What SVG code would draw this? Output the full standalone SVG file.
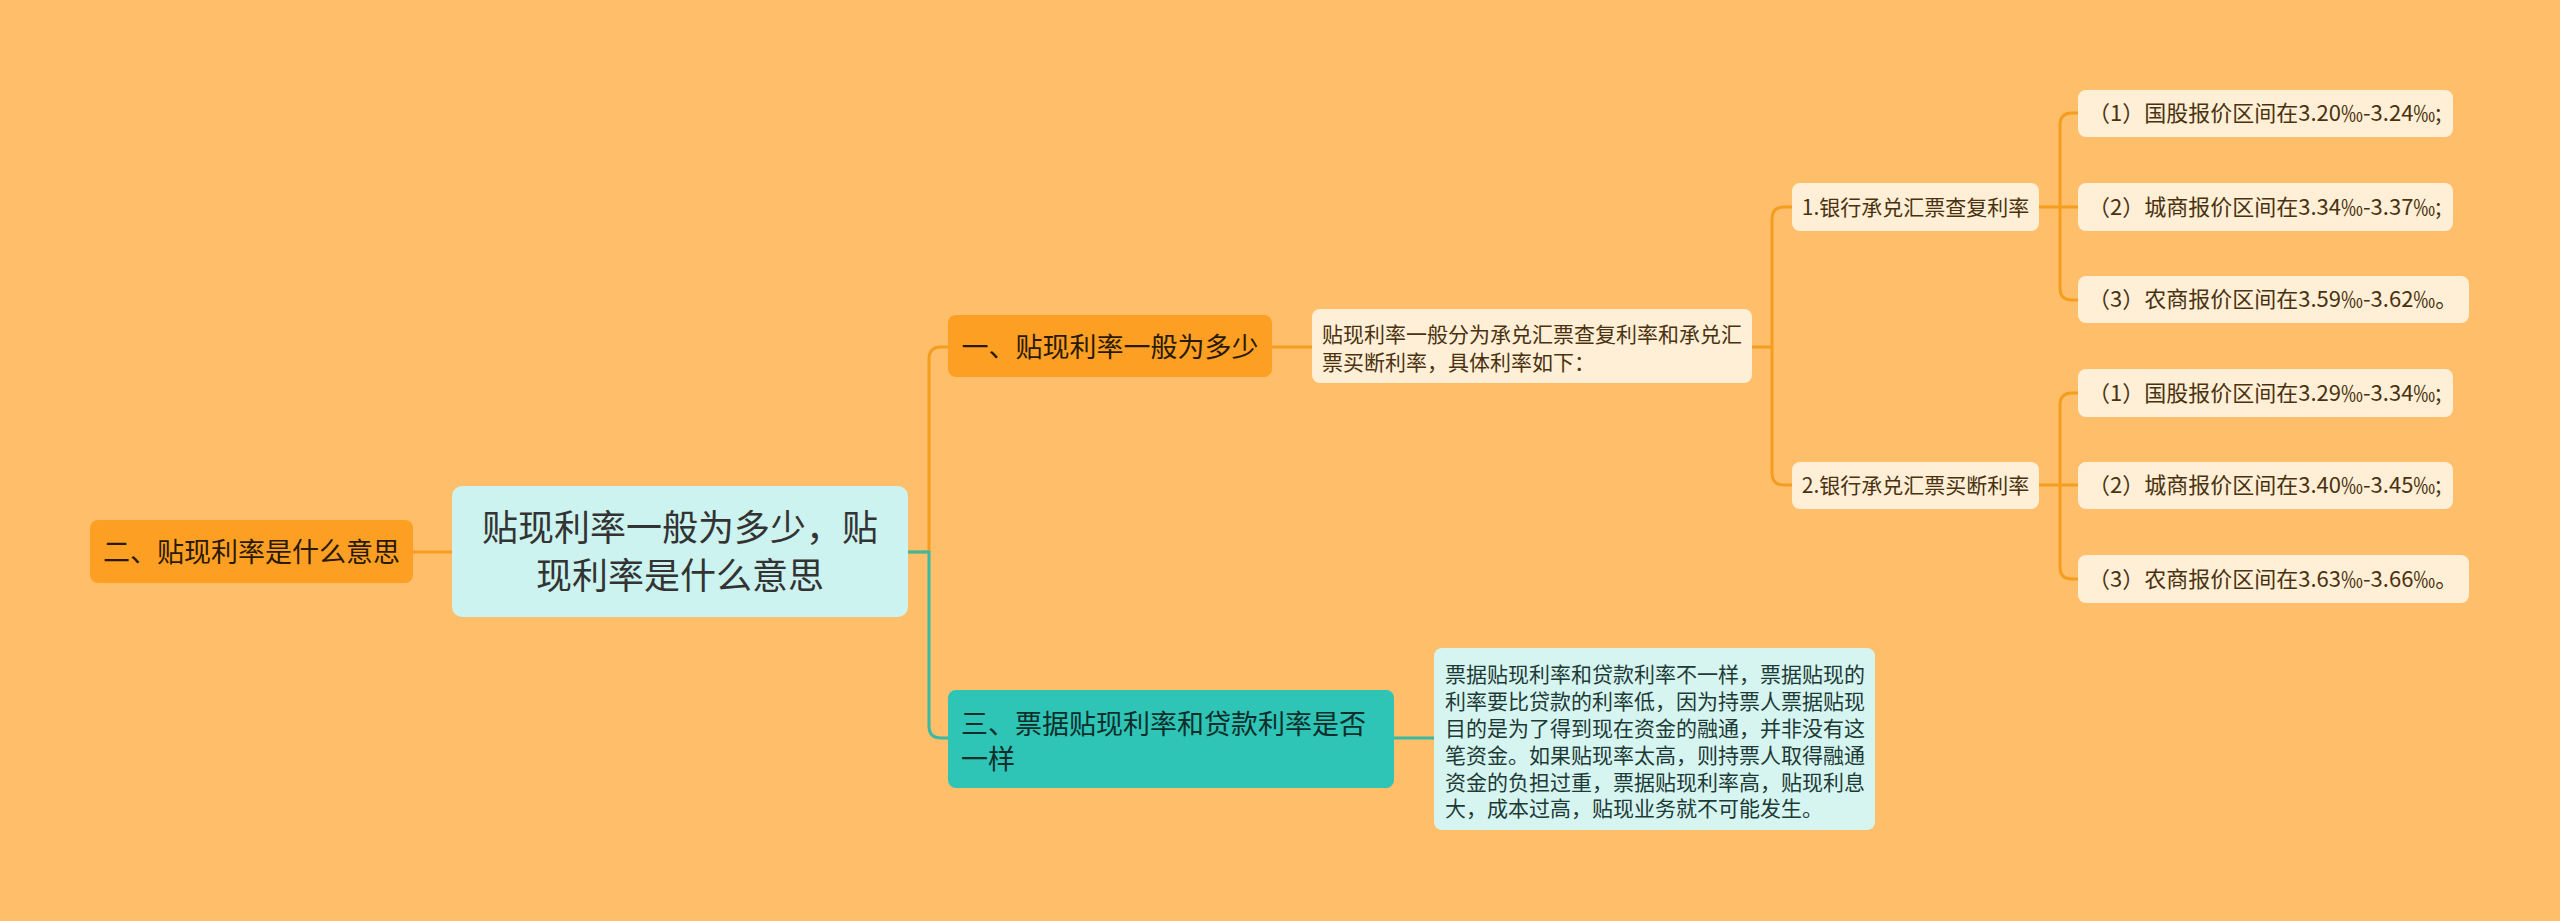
<svg xmlns="http://www.w3.org/2000/svg" width="2560" height="921" viewBox="0 0 2560 921">
<style>
text{font-family:"Noto Sans CJK SC","Liberation Sans",sans-serif;}
.co{fill:none;stroke:#F49D1F;stroke-width:3;}
.ct{fill:none;stroke:#3AB9A4;stroke-width:3;}
.orange{fill:#FD9F22;}
.cream{fill:#FFEFD6;}
.root{fill:#CCF3EF;}
.teal{fill:#2EC4B6;}
.lteal{fill:#D6F5F1;}
.t27{font-size:27px;fill:#2A1A05;}
.t21{font-size:21px;fill:#4A3210;}
.t22{font-size:22px;fill:#4A3210;}
.tt{font-size:27px;fill:#0F2E2A;}
.td{font-size:21px;fill:#1E3A36;}
</style>
<rect width="2560" height="921" fill="#FEBE6A"/>
<g id="connectors">
<line class="co" x1="413" y1="552" x2="452" y2="552"/>
<path class="co" d="M908,552 H929 V359 Q929,347 941,347 H948"/>
<path class="ct" d="M908,552 H929 V726 Q929,738 941,738 H948"/>
<line class="co" x1="1272" y1="347" x2="1312" y2="347"/>
<path class="co" d="M1752,347 H1772 V219 Q1772,207 1784,207 H1792"/>
<path class="co" d="M1772,347 V473 Q1772,485 1784,485 H1792"/>
<path class="co" d="M2039,207 H2078"/>
<path class="co" d="M2060,207 V125 Q2060,113 2072,113 H2078"/>
<path class="co" d="M2060,207 V288 Q2060,300 2072,300 H2078"/>
<path class="co" d="M2039,485 H2078"/>
<path class="co" d="M2060,485 V405 Q2060,393 2072,393 H2078"/>
<path class="co" d="M2060,485 V567 Q2060,579 2072,579 H2078"/>
<line class="ct" x1="1394" y1="738" x2="1434" y2="738"/>
</g>
<g id="root">
<rect class="root" x="452" y="486" width="456" height="131" rx="10"/>
<text x="680" y="541" font-size="36" fill="#333" text-anchor="middle">贴现利率一般为多少，贴</text>
<text x="680" y="589" font-size="36" fill="#333" text-anchor="middle">现利率是什么意思</text>
</g>
<g id="n2">
<rect class="orange" x="90" y="520" width="323" height="63" rx="8"/>
<text class="t27" x="251.5" y="562" text-anchor="middle">二、贴现利率是什么意思</text>
</g>
<g id="n1">
<rect class="orange" x="948" y="315" width="324" height="62" rx="8"/>
<text class="t27" x="1110" y="357" text-anchor="middle">一、贴现利率一般为多少</text>
</g>
<g id="d1">
<rect class="cream" x="1312" y="309" width="440" height="74" rx="8"/>
<text class="t21" x="1322" y="342">贴现利率一般分为承兑汇票查复利率和承兑汇</text>
<text class="t21" x="1322" y="370">票买断利率，具体利率如下：</text>
</g>
<g id="b1">
<rect class="cream" x="1792" y="183" width="247" height="48" rx="8"/>
<text class="t21" x="1915.5" y="215" text-anchor="middle">1.银行承兑汇票查复利率</text>
</g>
<g id="b2">
<rect class="cream" x="1792" y="462" width="247" height="47" rx="8"/>
<text class="t21" x="1915.5" y="493" text-anchor="middle">2.银行承兑汇票买断利率</text>
</g>
<g id="l1">
<rect class="cream" x="2078" y="90" width="375" height="47" rx="8"/>
<text class="t22" x="2088" y="121">（1）国股报价区间在3.20‰-3.24‰;</text>
</g>
<g id="l2">
<rect class="cream" x="2078" y="183" width="375" height="48" rx="8"/>
<text class="t22" x="2088" y="215">（2）城商报价区间在3.34‰-3.37‰;</text>
</g>
<g id="l3">
<rect class="cream" x="2078" y="276" width="391" height="47" rx="8"/>
<text class="t22" x="2088" y="307">（3）农商报价区间在3.59‰-3.62‰。</text>
</g>
<g id="l4">
<rect class="cream" x="2078" y="369" width="375" height="48" rx="8"/>
<text class="t22" x="2088" y="401">（1）国股报价区间在3.29‰-3.34‰;</text>
</g>
<g id="l5">
<rect class="cream" x="2078" y="462" width="375" height="47" rx="8"/>
<text class="t22" x="2088" y="493">（2）城商报价区间在3.40‰-3.45‰;</text>
</g>
<g id="l6">
<rect class="cream" x="2078" y="555" width="391" height="48" rx="8"/>
<text class="t22" x="2088" y="587">（3）农商报价区间在3.63‰-3.66‰。</text>
</g>
<g id="n3">
<rect class="teal" x="948" y="690" width="446" height="98" rx="8"/>
<text class="tt" x="961" y="734">三、票据贴现利率和贷款利率是否</text>
<text class="tt" x="961" y="769">一样</text>
</g>
<g id="d3">
<rect class="lteal" x="1434" y="648" width="441" height="182" rx="8"/>
<text class="td" x="1445" y="682">票据贴现利率和贷款利率不一样，票据贴现的</text>
<text class="td" x="1445" y="709">利率要比贷款的利率低，因为持票人票据贴现</text>
<text class="td" x="1445" y="736">目的是为了得到现在资金的融通，并非没有这</text>
<text class="td" x="1445" y="763">笔资金。如果贴现率太高，则持票人取得融通</text>
<text class="td" x="1445" y="790">资金的负担过重，票据贴现利率高，贴现利息</text>
<text class="td" x="1445" y="816">大，成本过高，贴现业务就不可能发生。</text>
</g>
</svg>
